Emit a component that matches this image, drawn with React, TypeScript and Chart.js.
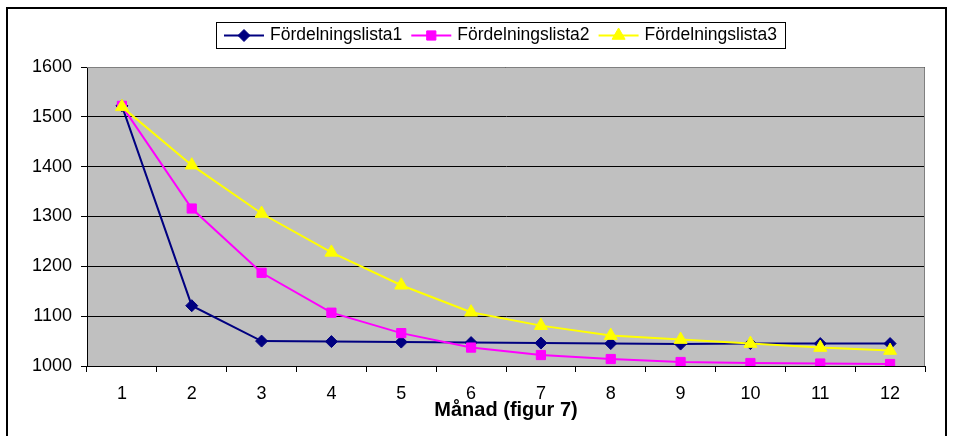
import { useEffect, useRef } from "react";
import { Chart, registerables } from "chart.js";

Chart.register(...registerables);

// ---- data ----
const months = ["1", "2", "3", "4", "5", "6", "7", "8", "9", "10", "11", "12"];
const seriesNames = ["Fördelningslista1", "Fördelningslista2", "Fördelningslista3"];
const lista1 = [1522, 1121, 1050, 1049, 1048, 1047, 1046, 1045, 1044, 1045, 1045, 1045];
const lista2 = [1522, 1316, 1187, 1107, 1066, 1037, 1022, 1014, 1008, 1006, 1005, 1004];
const lista3 = [1520, 1403, 1306, 1228, 1162, 1108, 1081, 1061, 1053, 1045, 1037, 1031];
const yMin = 1000;
const yMax = 1600;
const yStep = 100;
const xTitle = "Månad (figur 7)";

// ---- styles ----
const FONT = "'Liberation Sans', Arial, sans-serif";
const W = 953;
const H = 436;
const colors = ["#000080", "#FF00FF", "#FFFF00"];
const styles = ["rectRot", "rect", "triangle"];
const radii = [6, 6.5, 7.5];

function drawMarker(ctx: CanvasRenderingContext2D, style: string, x: number, y: number, r: number, color: string) {
  ctx.save();
  ctx.fillStyle = color;
  ctx.strokeStyle = color;
  ctx.lineWidth = 1;
  ctx.beginPath();
  if (style === "rectRot") {
    ctx.moveTo(x, y - r);
    ctx.lineTo(x + r, y);
    ctx.lineTo(x, y + r);
    ctx.lineTo(x - r, y);
    ctx.closePath();
  } else if (style === "rect") {
    const s = r / Math.SQRT2;
    ctx.rect(x - s, y - s, 2 * s, 2 * s);
  } else {
    for (let i = 0; i < 3; i++) {
      const a = (i * 2 * Math.PI) / 3;
      const px = x + Math.sin(a) * r;
      const py = y - Math.cos(a) * r;
      if (i === 0) ctx.moveTo(px, py);
      else ctx.lineTo(px, py);
    }
    ctx.closePath();
  }
  ctx.fill();
  ctx.stroke();
  ctx.restore();
}

const framePlugin = {
  id: "frame",
  beforeDraw(chart: any) {
    const ctx = chart.ctx as CanvasRenderingContext2D;
    const a = chart.chartArea;
    ctx.save();
    ctx.fillStyle = "#ffffff";
    ctx.fillRect(0, 0, W, H);
    ctx.strokeStyle = "#000000";
    ctx.lineWidth = 2;
    ctx.strokeRect(7, 8, 939, 500);
    ctx.fillStyle = "#C0C0C0";
    ctx.fillRect(a.left, a.top, a.right - a.left, a.bottom - a.top);
    ctx.restore();
  },
  beforeDatasetsDraw(chart: any) {
    const ctx = chart.ctx as CanvasRenderingContext2D;
    const a = chart.chartArea;
    ctx.save();
    ctx.strokeStyle = "#808080";
    ctx.lineWidth = 1;
    ctx.beginPath();
    ctx.moveTo(a.left, a.top + 0.5);
    ctx.lineTo(a.right - 0.5, a.top + 0.5);
    ctx.lineTo(a.right - 0.5, a.bottom);
    ctx.stroke();
    ctx.restore();
  },
};

const legendPlugin = {
  id: "boxLegend",
  afterDraw(chart: any) {
    const ctx = chart.ctx as CanvasRenderingContext2D;
    ctx.save();
    ctx.font = `17.5px ${FONT}`;
    const lineLen = 40;
    const gapLT = 6;
    const gapItem = 9;
    const padX = 8;
    const widths = seriesNames.map((n) => ctx.measureText(n).width);
    const total =
      padX * 2 + widths.reduce((s, w) => s + lineLen + gapLT + w, 0) + gapItem * (seriesNames.length - 1);
    const left = Math.round(500.5 - total / 2);
    const top = 22;
    const h = 26;
    ctx.fillStyle = "#ffffff";
    ctx.fillRect(left, top, total, h);
    ctx.strokeStyle = "#000000";
    ctx.lineWidth = 1;
    ctx.strokeRect(left + 0.5, top + 0.5, Math.round(total), h);
    const cy = top + h / 2 + 0.5;
    let x = left + padX;
    seriesNames.forEach((name, i) => {
      ctx.strokeStyle = colors[i];
      ctx.lineWidth = 2;
      ctx.beginPath();
      ctx.moveTo(x, cy);
      ctx.lineTo(x + lineLen, cy);
      ctx.stroke();
      drawMarker(ctx, styles[i], x + lineLen / 2, cy, radii[i], colors[i]);
      x += lineLen + gapLT;
      ctx.fillStyle = "#000000";
      ctx.textBaseline = "middle";
      ctx.textAlign = "left";
      ctx.fillText(name, x, cy);
      x += widths[i] + gapItem;
    });
    ctx.restore();
  },
};

export default function App() {
  const ref = useRef<HTMLCanvasElement | null>(null);

  useEffect(() => {
    if (!ref.current) return;
    const seriesData = [lista1, lista2, lista3];
    const chart = new Chart(ref.current, {
      type: "line",
      data: {
        labels: months,
        datasets: seriesData.map((d, i) => ({
          label: seriesNames[i],
          data: d,
          borderColor: colors[i],
          backgroundColor: colors[i],
          borderWidth: 2,
          pointStyle: styles[i] as any,
          pointRadius: radii[i],
          pointBorderColor: colors[i],
          pointBackgroundColor: colors[i],
          pointBorderWidth: 1,
          tension: 0,
          fill: false,
          order: 3 - i,
        })),
      },
      options: {
        responsive: false,
        animation: false,
        devicePixelRatio: 1,
        layout: { padding: { top: 67, left: 0, right: 28, bottom: 0 } },
        plugins: {
          legend: { display: false },
          tooltip: { enabled: false },
        },
        scales: {
          x: {
            type: "category",
            offset: true,
            afterFit: (s: any) => {
              s.height = 70;
            },
            grid: {
              offset: true,
              drawOnChartArea: false,
              drawTicks: true,
              tickLength: 6,
              color: "#000000",
            },
            border: { color: "#000000", width: 1 },
            ticks: {
              color: "#000000",
              font: { family: FONT, size: 18 },
              padding: 11,
              maxRotation: 0,
              autoSkip: false,
            },
            title: {
              display: true,
              text: xTitle,
              color: "#000000",
              font: { family: FONT, size: 20, weight: "bold" },
              padding: { top: 0, bottom: 14 },
            },
          },
          y: {
            min: yMin,
            max: yMax,
            afterFit: (s: any) => {
              s.width = 87;
            },
            grid: {
              color: "#000000",
              lineWidth: 1,
              drawTicks: true,
              tickLength: 6,
            },
            border: { color: "#000000", width: 1 },
            ticks: {
              stepSize: yStep,
              color: "#000000",
              font: { family: FONT, size: 18 },
              padding: 9,
              callback: (v: any) => String(v),
            },
          },
        },
      },
      plugins: [framePlugin, legendPlugin],
    });
    return () => chart.destroy();
  }, []);

  return (
    <div style={{ position: "absolute", left: 0, top: 0, width: W, height: H }}>
      <canvas ref={ref} width={W} height={H} style={{ width: W, height: H, display: "block" }} />
    </div>
  );
}
